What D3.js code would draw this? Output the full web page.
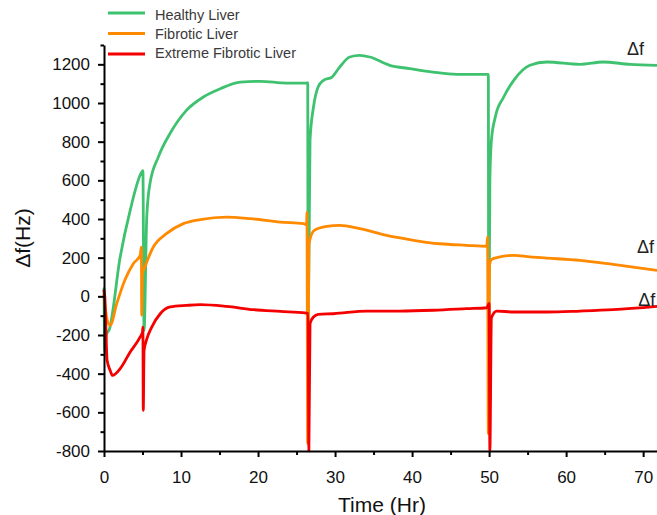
<!DOCTYPE html>
<html>
<head>
<meta charset="utf-8">
<script src="https://cdn.jsdelivr.net/npm/d3@7"></script>
<style>
  html, body { margin: 0; padding: 0; background: #fff; }
  svg { display: block; font-family: "Liberation Sans", Arial, sans-serif; }
  .axis path, .axis line { stroke: #000; }
  .axis text { fill: #111; }
  .series { fill: none; stroke-linejoin: round; stroke-linecap: round; }
</style>
</head>
<body>
<svg id="chart"></svg>
<script>
// series names and colours
const seriesNames = ['Healthy Liver', 'Fibrotic Liver', 'Extreme Fibrotic Liver'];
const seriesColors = ['#3fc26f', '#ff8a00', '#f50000'];

// time (Hr) and Δf (Hz)
const healthyTime = [0, 0.1, 0.3, 0.7, 2.1, 3.4, 4.9, 5.05, 5.2, 5.55, 5.97, 7.05, 8.57, 10.7, 12.9, 15.1, 17.7, 20.3, 23.7, 26.3, 26.45, 26.5, 26.75, 27.2, 27.8, 28.5, 29.6, 30.6, 31.9, 33.2, 34.5, 37.1, 39.7, 42.7, 45.8, 49.7, 49.9, 49.95, 50.1, 50.3, 50.8, 51.9, 53.2, 55.3, 57.5, 61.8, 64.8, 68.3, 71.8];
const healthyValue = [40, -290, -200, -170, 203, 445, 643, 650, -176, 410, 584, 720, 842, 962, 1031, 1074, 1108, 1112, 1103, 1103, 1105, -250, 807, 979, 1083, 1117, 1134, 1186, 1238, 1246, 1238, 1195, 1178, 1160, 1148, 1148, 1148, -340, 600, 807, 927, 1031, 1117, 1195, 1212, 1200, 1212, 1200, 1195];

const fibroticTime = [0, 0.3, 0.8, 1.65, 2.7, 3.8, 4.7, 4.85, 4.9, 5.0, 5.3, 6.4, 8.1, 10.3, 12.5, 15.9, 19, 22.9, 25.9, 26.3, 26.35, 26.45, 26.6, 27.3, 28.9, 30.6, 33.2, 36.7, 40.2, 43.6, 47.1, 49.7, 49.8, 49.9, 50.05, 50.3, 51.0, 53.2, 55.3, 57.5, 61.8, 66.1, 71.8];
const fibroticValue = [5, -100, -150, -38, 83, 169, 212, 255, -98, 120, 152, 255, 324, 376, 397, 410, 402, 384, 376, 370, 436, -760, 270, 341, 362, 367, 350, 315, 290, 272, 264, 259, 307, -710, 160, 190, 200, 212, 204, 198, 186, 165, 134];

const extremeTime = [0, 0.1, 0.4, 0.8, 1.1, 2.1, 3.4, 4.7, 5.0, 5.05, 5.1, 5.2, 5.5, 6.2, 7.3, 8.6, 10.7, 12.5, 15.9, 19.4, 22.9, 26.1, 26.5, 26.6, 26.75, 27.2, 27.8, 29.8, 34.1, 38.4, 42.8, 47.1, 49.7, 50.0, 50.1, 50.3, 51.0, 53.2, 57.5, 61.8, 66.1, 71.8];
const extremeValue = [30, 0, -330, -383, -409, -374, -288, -210, -185, -159, -590, -280, -228, -159, -90, -55, -47, -43, -52, -69, -78, -86, -88, -800, -141, -107, -93, -90, -76, -76, -72, -64, -59, -36, -800, -110, -76, -81, -81, -76, -69, -52];

// axis ticks
const xMajorTicks = [0, 10, 20, 30, 40, 50, 60, 70];
const xMinorTicks = [5, 15, 25, 35, 45, 55, 65];
const yMajorTicks = [-800, -600, -400, -200, 0, 200, 400, 600, 800, 1000, 1200];
const yMinorTicks = [-700, -500, -300, -100, 100, 300, 500, 700, 900, 1100, 1300];

// the "Δf" labels at the right edge (time, value)
const edgeLabelTime = [67.9, 69.2, 69.35];
const edgeLabelValue = [1246, 222, -52];

const width = 657;
const height = 515;
const plot = { left: 104, right: 657, top: 45, bottom: 451 };

const svg = d3.select('#chart').attr('width', width).attr('height', height);

const xScale = d3.scaleLinear().domain([0, 71.8]).range([plot.left, plot.right]);
const yScale = d3.scaleLinear().domain([-800, 1300]).range([plot.bottom, plot.top]);

const allSeries = [
  healthyTime.map((t, i) => ({ t, v: healthyValue[i] })),
  fibroticTime.map((t, i) => ({ t, v: fibroticValue[i] })),
  extremeTime.map((t, i) => ({ t, v: extremeValue[i] })),
];

const line = d3.line()
  .curve(d3.curveMonotoneX)
  .x((d) => xScale(d.t))
  .y((d) => yScale(d.v));

svg.append('g')
  .selectAll('path')
  .data(allSeries)
  .join('path')
  .attr('class', 'series')
  .attr('stroke', (d, i) => seriesColors[i])
  .attr('stroke-width', 2.8)
  .attr('d', line);

// axes
const fmt = (d) => String(d);

const xMinor = svg.append('g').attr('class', 'axis')
  .attr('transform', `translate(0, ${plot.bottom})`)
  .call(d3.axisBottom(xScale).tickValues(xMinorTicks).tickSize(4).tickFormat(''));
xMinor.select('.domain').remove();
xMinor.selectAll('line').attr('stroke-width', 2);

const xAxis = svg.append('g').attr('class', 'axis')
  .attr('transform', `translate(0, ${plot.bottom})`)
  .call(d3.axisBottom(xScale).tickValues(xMajorTicks).tickSize(6).tickSizeOuter(0).tickPadding(14).tickFormat(fmt));
xAxis.select('.domain').attr('stroke-width', 2);
xAxis.selectAll('line').attr('stroke-width', 2);
xAxis.selectAll('text').style('font-size', '17px');

const yMinor = svg.append('g').attr('class', 'axis')
  .attr('transform', `translate(${plot.left}, 0)`)
  .call(d3.axisLeft(yScale).tickValues(yMinorTicks).tickSize(3.5).tickFormat(''));
yMinor.select('.domain').remove();
yMinor.selectAll('line').attr('stroke-width', 2);

const yAxis = svg.append('g').attr('class', 'axis')
  .attr('transform', `translate(${plot.left}, 0)`)
  .call(d3.axisLeft(yScale).tickValues(yMajorTicks).tickSize(6).tickSizeOuter(0).tickPadding(8).tickFormat(fmt));
yAxis.select('.domain').attr('stroke-width', 2);
yAxis.selectAll('line').attr('stroke-width', 2);
yAxis.selectAll('text').style('font-size', '17px');

// axis titles
svg.append('text')
  .attr('x', 382)
  .attr('y', 512)
  .attr('text-anchor', 'middle')
  .style('font-size', '21px')
  .attr('fill', '#111')
  .text('Time (Hr)');

svg.append('text')
  .attr('transform', 'translate(30, 238) rotate(-90)')
  .attr('text-anchor', 'middle')
  .style('font-size', '21px')
  .attr('fill', '#111')
  .text('Δf(Hz)');

// right edge labels
svg.append('g')
  .selectAll('text')
  .data(edgeLabelTime)
  .join('text')
  .attr('x', (d) => xScale(d))
  .attr('y', (d, i) => yScale(edgeLabelValue[i]))
  .style('font-size', '18px')
  .attr('fill', '#222')
  .text('Δf');

// legend
const legend = svg.append('g').attr('class', 'legend');
seriesNames.forEach((name, i) => {
  const ly = 13 + i * 20.5;
  legend.append('line')
    .attr('x1', 108).attr('x2', 145)
    .attr('y1', ly).attr('y2', ly)
    .attr('stroke', seriesColors[i])
    .attr('stroke-width', 3);
  legend.append('text')
    .attr('x', 155)
    .attr('y', 20 + i * 19)
    .style('font-size', '14.5px')
    .attr('fill', '#3a3a3a')
    .text(name);
});
</script>
</body>
</html>
